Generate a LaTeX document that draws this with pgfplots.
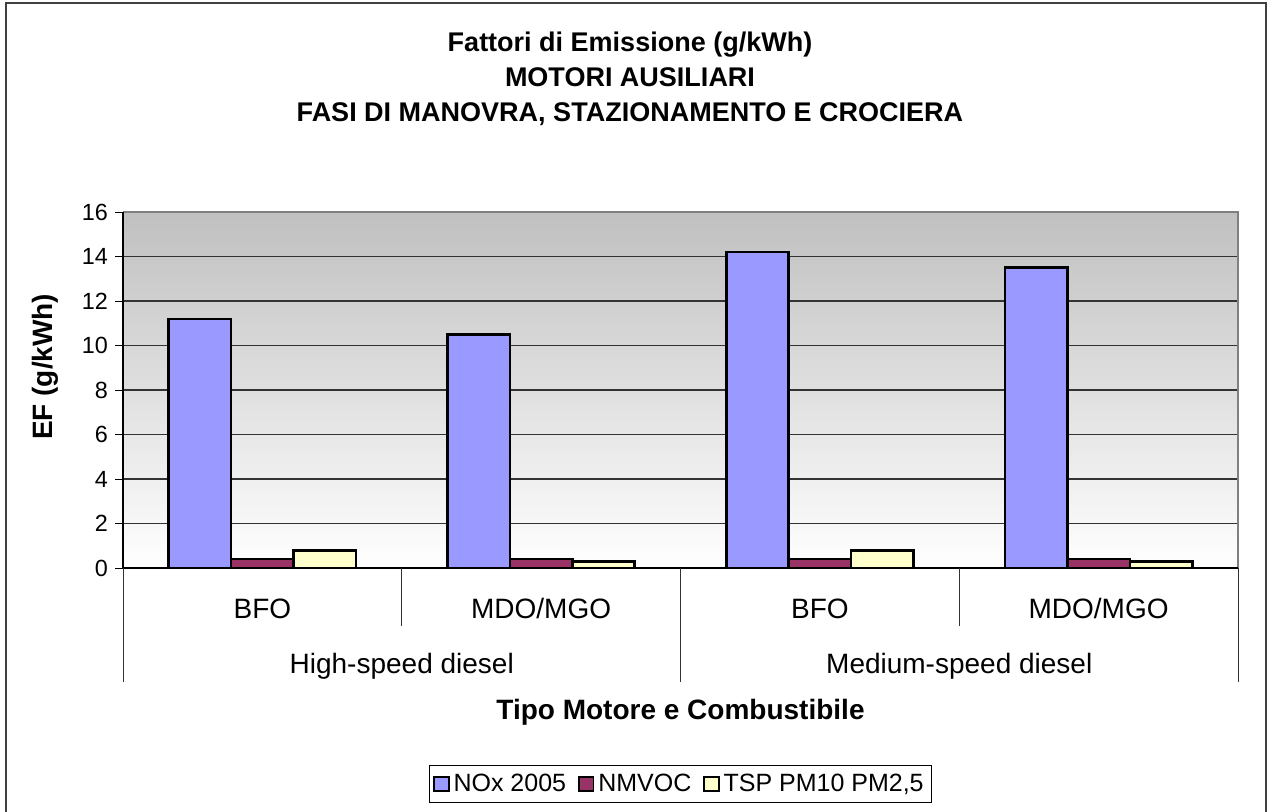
\documentclass[border=0pt]{standalone}
\usepackage{fontspec}
\setmainfont{Liberation Sans}
\usepackage{pgfplots}
\pgfplotsset{compat=1.18}
\definecolor{noxc}{HTML}{9999FF}
\definecolor{nmc}{HTML}{993366}
\definecolor{tspc}{HTML}{FFFFCC}
\definecolor{topg}{HTML}{C0C0C0}
\begin{document}
\begin{tikzpicture}
\begin{scope}[x=0.5pt,y=-0.5pt]
\fill[white] (0,0) rectangle (1270,812);
\draw[line width=1pt, black!75] (6,830) -- (6,3) -- (1266,3) -- (1266,830);
\node[font=\fontsize{13.5}{17.5}\selectfont\bfseries, align=center] at (630,79)
  {Fattori di Emissione (g/kWh)\\MOTORI AUSILIARI\\FASI DI MANOVRA, STAZIONAMENTO E CROCIERA};
\end{scope}
\begin{axis}[
  at={(61.5pt,-284pt)}, anchor=south west,
  scale only axis, width=557.5pt, height=178pt,
  clip=false,
  xmin=-0.5, xmax=3.5, ymin=0, ymax=16,
  ytick={0,2,...,16},
  ymajorgrids, grid style={black!80, line width=0.55pt},
  axis background/.style={top color=topg, bottom color=white},
  axis line style={draw=none},
  ytick align=outside, ytick pos=left, major tick length=4pt,
  ytick style={black, line width=0.5pt},
  xtick={0,1,2,3}, xticklabels={BFO,MDO/MGO,BFO,MDO/MGO},
  xtick style={draw=none},
  xticklabel style={anchor=base, yshift=-21pt, font=\fontsize{14}{16}\selectfont},
  yticklabel style={font=\fontsize{11.7}{13}\selectfont},
  /pgf/number format/assume math mode=true,
  ylabel={EF (g/kWh)},
  ylabel style={at={(axis description cs:-0.07,0.565)}, anchor=center, font=\fontsize{14}{16}\selectfont\bfseries},
  xlabel={Tipo Motore e Combustibile},
  xlabel style={at={(axis description cs:0.5,0)}, anchor=center, yshift=-72pt, font=\fontsize{14}{16}\selectfont\bfseries},
  ybar, bar width=0.224,
  legend style={at={(axis description cs:0.5,-0.607)}, anchor=center, legend columns=-1,
    draw=black, line width=0.5pt, font=\fontsize{12.5}{14}\selectfont,
    inner xsep=2pt, inner ysep=2pt,
    /tikz/every even column/.append style={column sep=4pt}},
  legend image code/.code={\draw[#1, line width=0.9pt] (0pt,-3.6pt) rectangle (7.2pt,3.6pt);},
  legend cell align=left,
]
\addplot[fill=noxc, draw=black, line width=1.3pt, bar shift=-0.224] coordinates {(0,11.2) (1,10.5) (2,14.2) (3,13.5)};
\addplot[fill=nmc, draw=black, line width=1.3pt, bar shift=0] coordinates {(0,0.4) (1,0.4) (2,0.4) (3,0.4)};
\addplot[fill=tspc, draw=black, line width=1.3pt, bar shift=0.224] coordinates {(0,0.8) (1,0.3) (2,0.8) (3,0.3)};
\legend{NOx 2005, NMVOC, {TSP PM10 PM2,5}}
\draw[gray, line width=1.2pt] (rel axis cs:0,1) -- (rel axis cs:1,1) -- (rel axis cs:1,0);
\draw[black, line width=0.75pt] (rel axis cs:0,1) -- (rel axis cs:0,0) -- (rel axis cs:1,0);
\draw[black!80, line width=0.5pt] (axis cs:0.5,0) -- ++(0pt,-29pt);
\draw[black!80, line width=0.5pt] (axis cs:2.5,0) -- ++(0pt,-29pt);
\draw[black!80, line width=0.5pt] (axis cs:-0.5,0) -- ++(0pt,-57pt);
\draw[black!80, line width=0.5pt] (axis cs:1.5,0) -- ++(0pt,-57pt);
\draw[black!80, line width=0.5pt] (axis cs:3.5,0) -- ++(0pt,-57pt);
\node[font=\fontsize{14}{16}\selectfont, anchor=base] at (axis cs:0.5,0) [yshift=-52.5pt] {High-speed diesel};
\node[font=\fontsize{14}{16}\selectfont, anchor=base] at (axis cs:2.5,0) [yshift=-52.5pt] {Medium-speed diesel};
\end{axis}
\pgfresetboundingbox
\path[use as bounding box] (0pt,0pt) rectangle (635pt,-406pt);
\end{tikzpicture}
\end{document}
